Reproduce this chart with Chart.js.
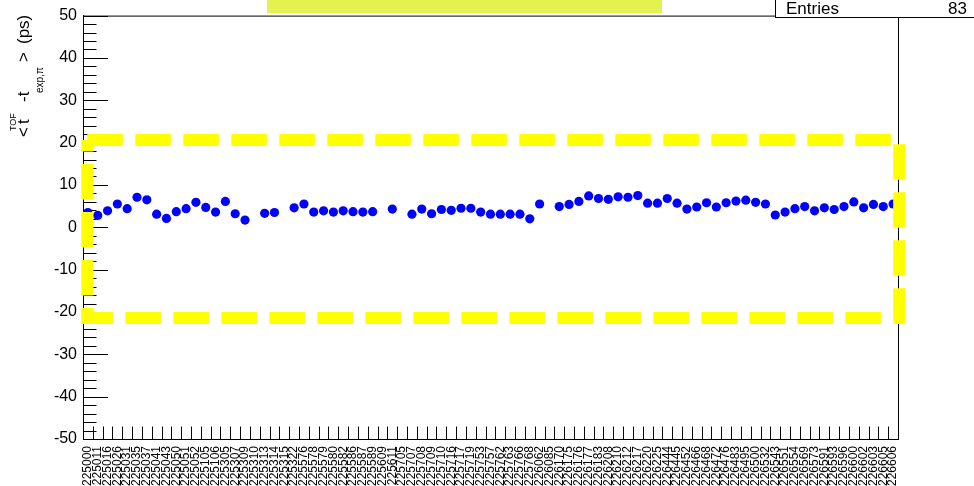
<!DOCTYPE html>
<html>
<head>
<meta charset="utf-8">
<script src="https://cdn.jsdelivr.net/npm/chart.js@4/dist/chart.umd.min.js"></script>
<style>
  html, body { margin: 0; padding: 0; background: #fff; overflow: hidden; }
  canvas { display: block; }
</style>
</head>
<body>
<canvas id="c" width="974" height="486"></canvas>
<script>
// Run numbers (one bin per run)
const runs = [
  '225000','225011','225016','225026','225031','225035','225037','225041','225043','225050',
  '225051','225052','225105','225106','225305','225307','225309','225310','225313','225314',
  '225315','225322','225576','225578','225579','225580','225582','225586','225587','225589',
  '225609','225611','225705','225707','225708','225709','225710','225716','225717','225719',
  '225753','225757','225762','225763','225766','225768','226062','226085','226170','226175',
  '226176','226177','226183','226208','226210','226212','226217','226220','226225','226444',
  '226445','226452','226466','226468','226472','226476','226483','226495','226500','226532',
  '226543','226551','226554','226569','226573','226591','226593','226596','226600','226602',
  '226603','226605','226606'
];

// Mean of t_TOF - t_exp(pi) per run, in ps (null = empty bin)
const meanOffset = [
  3.5, 2.8, 3.9, 5.5, 4.4, 7.1, 6.5, 3.1, 2.1, 3.7,
  4.4, 5.9, 4.7, 3.6, 6.1, 3.2, 1.7, null, 3.3, 3.5,
  null, 4.6, 5.5, 3.6, 3.9, 3.6, 3.9, 3.7, 3.6, 3.7,
  null, 4.3, null, 3.1, 4.3, 3.2, 4.2, 4.0, 4.5, 4.5,
  3.6, 3.1, 3.1, 3.1, 3.1, 2.0, 5.5, null, 4.9, 5.4,
  6.1, 7.4, 6.8, 6.6, 7.2, 7.1, 7.5, 5.7, 5.7, 6.8,
  5.7, 4.3, 4.8, 5.8, 4.8, 5.8, 6.2, 6.4, 5.9, 5.5,
  2.9, 3.6, 4.4, 4.9, 3.9, 4.6, 4.2, 4.9, 6.0, 4.6,
  5.4, 4.9, 5.5
];

// Y axis range (ps) and acceptance band shown as a dashed box
const yRange = [-50, 50];
const bandY = [-21.4, 20.6];
const bandX = [-0.06, 82.62];

const FONT = '"Liberation Sans", Arial, Helvetica, sans-serif';

const rootStyle = {
  id: 'rootStyle',
  beforeDatasetsDraw(chart) {
    const { ctx, chartArea: a, scales: { x, y } } = chart;
    ctx.save();
    ctx.strokeStyle = '#000';
    ctx.lineWidth = 1;
    ctx.beginPath();
    // upper and right frame edges
    ctx.moveTo(a.left, a.top + 0.5);
    ctx.lineTo(a.right + 0.5, a.top + 0.5);
    ctx.lineTo(a.right + 0.5, a.bottom);
    // inward y ticks: major every 10, minor every 2
    for (let v = y.min; v <= y.max; v += 2) {
      const py = Math.round(y.getPixelForValue(v)) + 0.5;
      const len = v % 10 === 0 ? 25 : 13.5;
      ctx.moveTo(a.left, py);
      ctx.lineTo(a.left + len, py);
    }
    // inward x ticks at bin edges
    for (let k = 1; k < runs.length; k++) {
      const px = Math.round(x.getPixelForValue(k - 0.5)) + 0.5;
      ctx.moveTo(px, a.bottom);
      ctx.lineTo(px, a.bottom - 12.5);
    }
    ctx.stroke();
    ctx.restore();
  },
  afterDatasetsDraw(chart) {
    const { ctx, scales: { x, y } } = chart;
    const x0 = x.getPixelForValue(bandX[0]);
    const x1 = x.getPixelForValue(bandX[1]);
    const yT = y.getPixelForValue(bandY[1]);
    const yB = y.getPixelForValue(bandY[0]);
    ctx.save();
    ctx.strokeStyle = '#ffff00';
    ctx.lineWidth = 12;
    ctx.lineCap = 'butt';
    ctx.lineJoin = 'miter';
    ctx.setLineDash([35.5, 12.5]);
    ctx.beginPath();
    ctx.moveTo(x0, yT);
    ctx.lineTo(x1, yT);
    ctx.lineTo(x1, yB);
    ctx.lineTo(x0, yB);
    ctx.lineTo(x0, yT);
    ctx.stroke();
    ctx.restore();
  },
  afterDraw(chart) {
    const { ctx } = chart;
    ctx.save();
    // title pad
    ctx.fillStyle = '#e3f24f';
    ctx.fillRect(267, 0, 395, 13);
    // statistics box
    ctx.fillStyle = '#fff';
    ctx.fillRect(775.5, -2, 210, 19.5);
    ctx.strokeStyle = '#000';
    ctx.lineWidth = 1;
    ctx.strokeRect(775.5, -2, 210, 19.5);
    ctx.fillStyle = '#000';
    ctx.font = '17px ' + FONT;
    ctx.textBaseline = 'alphabetic';
    ctx.textAlign = 'left';
    ctx.fillText('Entries', 786, 14);
    ctx.textAlign = 'right';
    ctx.fillText(String(runs.length), 967, 14);

    // y axis title with super/subscripts, read upwards
    ctx.textAlign = 'left';
    const piece = (txt, size, bx, sy) => {
      ctx.save();
      ctx.translate(bx, sy);
      ctx.rotate(-Math.PI / 2);
      ctx.font = size + 'px ' + FONT;
      ctx.fillText(txt, 0, 0);
      ctx.restore();
    };
    piece('<', 17, 28.5, 137);
    piece('t', 17, 28.5, 124);
    piece('TOF', 9, 16, 131);
    piece('-t', 17, 28.5, 102);
    piece('exp,\u03c0', 10, 43, 93);
    piece('>', 17, 28.5, 62);
    piece('(ps)', 17, 28.5, 44);
    ctx.restore();
  }
};

new Chart(document.getElementById('c'), {
  type: 'line',
  data: {
    labels: runs,
    datasets: [{
      data: meanOffset,
      showLine: false,
      pointStyle: 'circle',
      pointRadius: 4.6,
      pointBackgroundColor: '#0000ff',
      pointBorderColor: '#0000ff',
      pointBorderWidth: 0
    }]
  },
  options: {
    responsive: false,
    animation: false,
    devicePixelRatio: 1,
    layout: { padding: { left: 0, top: 15, right: 76, bottom: 0 } },
    plugins: { legend: { display: false }, tooltip: { enabled: false } },
    scales: {
      x: {
        type: 'category',
        offset: true,
        grid: { display: false, drawTicks: false },
        border: { display: true, color: '#000', width: 1 },
        ticks: {
          autoSkip: false, maxRotation: 90, minRotation: 90, padding: 7,
          color: '#000', font: { family: FONT, size: 12 }
        },
        afterFit(s) { s.height = 47; }
      },
      y: {
        min: yRange[0], max: yRange[1],
        grid: { display: false, drawTicks: false },
        border: { display: true, color: '#000', width: 1 },
        ticks: { stepSize: 10, padding: 6, color: '#000', font: { family: FONT, size: 16 } },
        afterFit(s) { s.width = 83; }
      }
    }
  },
  plugins: [rootStyle]
});
</script>
</body>
</html>
